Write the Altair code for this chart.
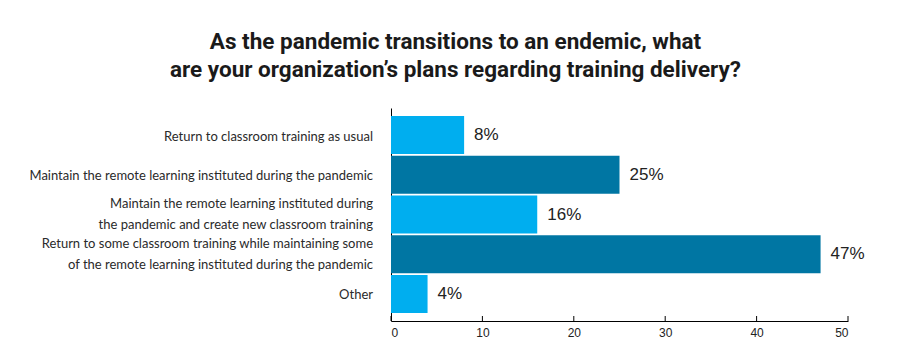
import altair as alt
import pandas as pd

categories = [
    "Return to classroom training as usual",
    "Maintain the remote learning instituted during the pandemic",
    "Maintain the remote learning instituted during the pandemic and create new classroom training",
    "Return to some classroom training while maintaining some of the remote learning instituted during the pandemic",
    "Other",
]
label_line1 = [
    "Return to classroom training as usual",
    "Maintain the remote learning instituted during the pandemic",
    "Maintain the remote learning instituted during",
    "Return to some classroom training while maintaining some",
    "Other",
]
label_line2 = [
    "",
    "",
    "the pandemic and create new classroom training",
    "of the remote learning instituted during the pandemic",
    "",
]
values = [8, 25, 16, 47, 4]
shades = ["light", "dark", "light", "dark", "light"]
ticks = [0, 10, 20, 30, 40, 50]
title_lines = [
    "As the pandemic transitions to an endemic, what",
    "are your organization\u2019s plans regarding training delivery?",
]

df = pd.DataFrame({
    "cat": categories,
    "l1": label_line1,
    "l2": label_line2,
    "val": values,
    "shade": shades,
    "label": [f"{v}%" for v in values],
})
tick_df = pd.DataFrame({"t": ticks})

W, H = 457, 213
LABEL_FONT = "Lato"
LABEL_SIZE = 13

xscale = alt.Scale(domain=[0, 50], nice=False)
yscale = alt.Scale(domain=categories, paddingInner=0.04, paddingOuter=0.2)

bars = alt.Chart(df).mark_bar().encode(
    x=alt.X(
        "val:Q",
        scale=xscale,
        title=None,
        axis=alt.Axis(
            values=ticks,
            ticks=False,
            grid=False,
            domainColor="#000000",
            domainWidth=1,
            labelFontSize=12,
            labelFont="Liberation Sans",
            labelColor="#222222",
            labelPadding=6,
        ),
    ),
    y=alt.Y(
        "cat:N",
        sort=categories,
        title=None,
        scale=yscale,
        axis=alt.Axis(labels=False, ticks=False, domainColor="#000000", domainWidth=1),
    ),
    color=alt.Color(
        "shade:N",
        scale=alt.Scale(domain=["light", "dark"], range=["#00AEEF", "#0076A3"]),
        legend=None,
    ),
)

text = alt.Chart(df).mark_text(
    align="left", baseline="middle", dx=10, fontSize=17,
    font="Liberation Sans", color="#222222",
).encode(
    x=alt.X("val:Q", scale=xscale),
    y=alt.Y("cat:N", sort=categories, scale=yscale),
    text="label:N",
)

lab_style = dict(align="right", baseline="middle", fontSize=LABEL_SIZE,
                 font=LABEL_FONT, color="#2a2a2a")

single = alt.Chart(df).transform_filter("datum.l2 == ''").mark_text(dy=1.5, **lab_style).encode(
    x=alt.value(-18),
    y=alt.Y("cat:N", sort=categories, scale=yscale),
    text="l1:N",
)
top_line = alt.Chart(df).transform_filter("datum.l2 != ''").mark_text(dy=-10.5, **lab_style).encode(
    x=alt.value(-18),
    y=alt.Y("cat:N", sort=categories, scale=yscale),
    text="l1:N",
)
bottom_line = alt.Chart(df).transform_filter("datum.l2 != ''").mark_text(dy=10.5, **lab_style).encode(
    x=alt.value(-18),
    y=alt.Y("cat:N", sort=categories, scale=yscale),
    text="l2:N",
)

tick_marks = alt.Chart(tick_df).mark_rule(color="#000000", strokeWidth=1).encode(
    x=alt.X("t:Q", scale=xscale),
    y=alt.value(H),
    y2=alt.value(H - 5),
)

chart = alt.layer(bars, text, single, top_line, bottom_line, tick_marks).properties(
    width=W,
    height=H,
    autosize=alt.AutoSizeParams(type="none"),
    padding={"left": 383, "top": 100, "right": 46, "bottom": 28},
    title=alt.TitleParams(
        title_lines,
        anchor="middle",
        dx=-164,
        fontSize=22.5,
        font="Roboto",
        fontWeight="bold",
        color="#1a1a1a",
        lineHeight=28,
        offset=27,
    ),
    background="#ffffff",
).configure_view(stroke=None)

chart.save("out.html", embed_options={"renderer": "svg", "actions": False})
